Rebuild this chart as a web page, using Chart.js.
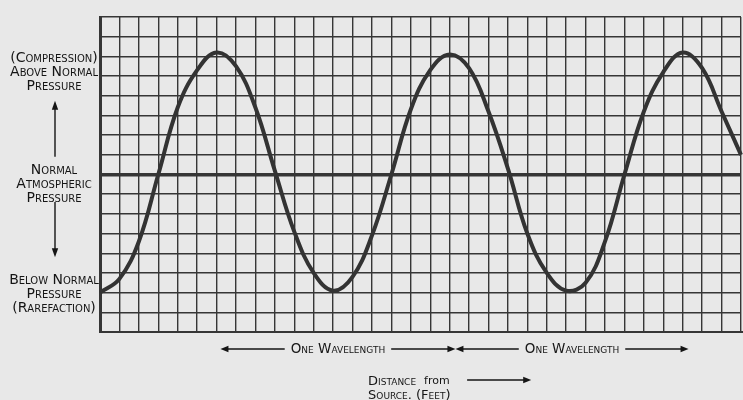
<!DOCTYPE html>
<html>
<head>
<meta charset="utf-8">
<script src="https://cdn.jsdelivr.net/npm/chart.js@4.4.0/dist/chart.umd.min.js"></script>
<style>
  html, body { margin: 0; padding: 0; background: #e8e8e8; }
  #wrap { width: 743px; height: 400px; }
</style>
</head>
<body>
<div id="wrap"><canvas id="c" width="743" height="400"></canvas></div>
<script>
// ---- data (grid cells) ----
const distance = [0,1,2,3,4,5,6,7,8,9,10,11,12,13,14,15,16,17,18,19,20,21,22,23,24,25,26,27,28,29,30,31,32,33];
const pressure = [-6.0,-5.3,-3.4,0.0,3.4,5.3,6.2,5.5,3.4,0.2,-2.9,-5.0,-5.9,-5.2,-3.1,0.0,3.3,5.3,6.1,5.4,3.2,0.3,-3.0,-5.0,-5.9,-5.5,-3.4,0.0,3.2,5.2,6.2,5.4,3.2,1.0];

// axis ranges (grid cells)
const xRange = [0, 33];
const yRange = [-8, 8];

// side labels (y positions in grid cells) and their text lines
const sideLabelAt = [5.2, -0.5, -6.1];
const sideLabels = [
  ['(Compression)', 'Above Normal', 'Pressure'],
  ['Normal', 'Atmospheric', 'Pressure'],
  ['Below Normal', 'Pressure', '(Rarefaction)']
];
const sideArrows = [[0.9, 3.75], [-1.4, -4.2]];

// wavelength markers along distance axis
const wavelengthMarks = [6.2, 18.3, 30.3];
const wavelengthText = 'One Wavelength';

// axis title
const axisTitleAt = 13.8;
const axisTitleLines = [['Distance', 'from'], ['Source. (Feet)', '']];
const axisTitleArrow = [18.9, 22.2];

const ink = '#151515';
const gridInk = '#363636';

const points = distance.map((d, i) => ({ x: d, y: pressure[i] }));

function arrowHead(ctx, x, y, dir, horiz) {
  ctx.beginPath();
  if (horiz) {
    ctx.moveTo(x, y);
    ctx.lineTo(x - dir * 8, y - 3.2);
    ctx.lineTo(x - dir * 8, y + 3.2);
  } else {
    ctx.moveTo(x, y);
    ctx.lineTo(x - 3.2, y - dir * 9);
    ctx.lineTo(x + 3.2, y - dir * 9);
  }
  ctx.closePath();
  ctx.fill();
}

const annotations = {
  id: 'annotations',
  afterDraw(chart) {
    const { ctx, chartArea } = chart;
    const xs = chart.scales.x, ys = chart.scales.y;
    ctx.save();
    ctx.fillStyle = ink;
    ctx.strokeStyle = ink;
    ctx.lineWidth = 1.4;

    // side labels
    const cx = chartArea.left - 46;
    ctx.font = 'small-caps 14px "DejaVu Sans"';
    ctx.textAlign = 'center';
    ctx.textBaseline = 'middle';
    sideLabelAt.forEach((v, i) => {
      const lines = sideLabels[i];
      const yc = ys.getPixelForValue(v);
      const lh = 14;
      lines.forEach((t, j) => ctx.fillText(t, cx, yc + (j - (lines.length - 1) / 2) * lh));
    });
    // side arrows
    sideArrows.forEach(([a, b]) => {
      const y0 = ys.getPixelForValue(a), y1 = ys.getPixelForValue(b);
      const dir = y1 < y0 ? -1 : 1;
      ctx.beginPath();
      ctx.moveTo(cx + 1, y0);
      ctx.lineTo(cx + 1, y1 - dir * 6);
      ctx.stroke();
      arrowHead(ctx, cx + 1, y1, dir, false);
    });

    // wavelength markers
    const rowY = chartArea.bottom + 17;
    ctx.font = 'small-caps 13.5px "DejaVu Sans"';
    const tw = ctx.measureText(wavelengthText).width;
    for (let i = 0; i < wavelengthMarks.length - 1; i++) {
      const a = xs.getPixelForValue(wavelengthMarks[i]);
      const b = xs.getPixelForValue(wavelengthMarks[i + 1]);
      const mid = (a + b) / 2;
      ctx.fillText(wavelengthText, mid, rowY);
      ctx.beginPath();
      ctx.moveTo(a + 6, rowY);
      ctx.lineTo(mid - tw / 2 - 6, rowY);
      ctx.moveTo(mid + tw / 2 + 6, rowY);
      ctx.lineTo(b - 6, rowY);
      ctx.stroke();
      arrowHead(ctx, a, rowY, -1, true);
      arrowHead(ctx, b, rowY, 1, true);
    }

    // axis title
    const tx = xs.getPixelForValue(axisTitleAt);
    ctx.textAlign = 'left';
    axisTitleLines.forEach(([main, small], j) => {
      const yy = chartArea.bottom + 50 + j * 14;
      ctx.font = 'small-caps 13px "DejaVu Sans"';
      ctx.fillText(main, tx, yy);
      if (small) {
        const w = ctx.measureText(main).width + 8;
        ctx.font = '11px "DejaVu Sans"';
        ctx.fillText(small, tx + w, yy - 1);
      }
    });
    const ay = chartArea.bottom + 48;
    const ax0 = xs.getPixelForValue(axisTitleArrow[0]);
    const ax1 = xs.getPixelForValue(axisTitleArrow[1]);
    ctx.beginPath();
    ctx.moveTo(ax0, ay);
    ctx.lineTo(ax1 - 6, ay);
    ctx.stroke();
    arrowHead(ctx, ax1, ay, 1, true);

    ctx.restore();
  }
};

new Chart(document.getElementById('c'), {
  type: 'line',
  data: {
    datasets: [{
      data: points,
      borderColor: '#333333',
      borderWidth: 4,
      pointRadius: 0,
      fill: false,
      tension: 0.4,
      clip: 3
    }]
  },
  options: {
    responsive: false,
    animation: false,
    events: [],
    layout: { padding: { left: 100, top: 17, right: 2, bottom: 68 } },
    plugins: { legend: { display: false }, tooltip: { enabled: false } },
    scales: {
      x: {
        type: 'linear',
        min: xRange[0], max: xRange[1],
        ticks: { display: false, stepSize: 1, maxTicksLimit: 200 },
        grid: {
          color: gridInk,
          lineWidth: c => (c.tick && c.tick.value === xRange[0]) ? 3 : 1.4,
          drawTicks: false
        },
        border: { display: true, color: gridInk, width: 2 }
      },
      y: {
        type: 'linear',
        min: yRange[0], max: yRange[1],
        ticks: { display: false, stepSize: 1, maxTicksLimit: 200 },
        grid: {
          color: gridInk,
          lineWidth: c => (c.tick && c.tick.value === 0) ? 3.5 : 1.4,
          drawTicks: false
        },
        border: { display: true, color: gridInk, width: 3 }
      }
    }
  },
  plugins: [annotations]
});
</script>
</body>
</html>
